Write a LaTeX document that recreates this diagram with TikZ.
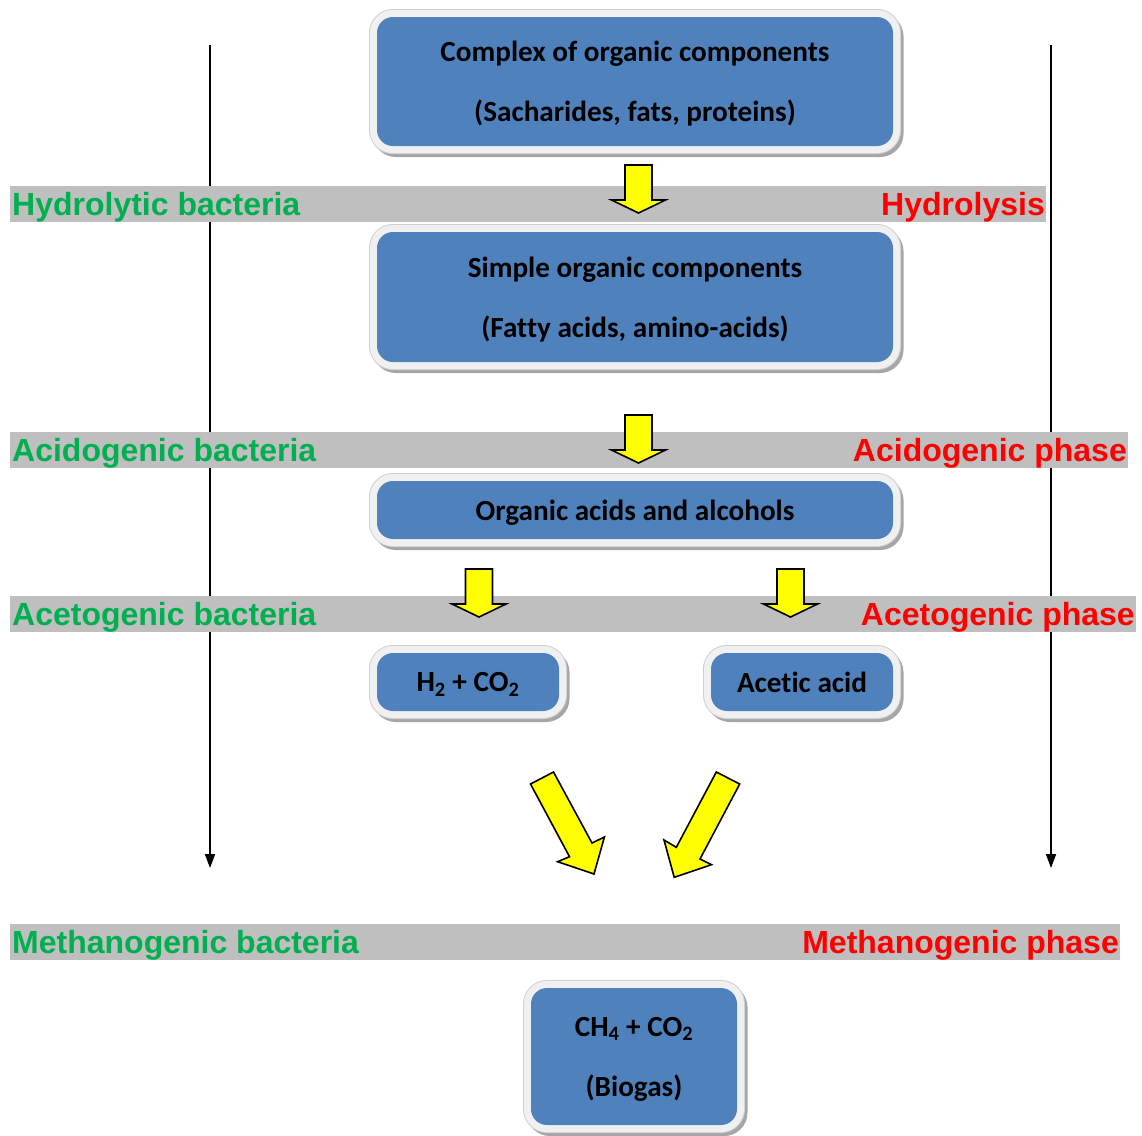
\documentclass[tikz,border=0pt]{standalone}
\usepackage{fontspec}
\setmainfont{Carlito}[Ligatures=NoCommon]
\newfontfamily\arialfont{Liberation Sans}
\usetikzlibrary{arrows.meta}
\definecolor{boxblue}{HTML}{4F81BD}
\definecolor{framegray}{HTML}{F0F0F0}
\definecolor{frameline}{HTML}{D0D0D0}
\definecolor{shadowgray}{HTML}{A6A6A6}
\definecolor{bandgray}{HTML}{BFBFBF}
\definecolor{labgreen}{HTML}{00B050}
\definecolor{labred}{HTML}{FF0000}
\definecolor{arrowyellow}{HTML}{FFFF00}
\tikzset{
  stagebox/.style={fill=boxblue, rounded corners=16pt, inner sep=0pt, align=center,
    text depth=0pt,
    font=\bfseries\fontsize{29.2}{60}\selectfont,
    preaction={draw=shadowgray, line width=15pt, transform canvas={shift={(3pt,-3.5pt)}}},
    preaction={draw=frameline, line width=16pt},
    preaction={draw=framegray, line width=14pt}},
  band/.style={fill=bandgray, inner sep=0pt, minimum height=36pt, anchor=north west},
  labfont/.style={font=\arialfont\bfseries\fontsize{32}{36}\selectfont, inner sep=0pt},
  bact/.style={labfont, text=labgreen, anchor=base west},
  phase/.style={labfont, text=labred, anchor=base east},
  vline/.style={line width=1.8pt, -{Triangle[length=14pt,width=10pt]}},
  yarrow/.style={fill=arrowyellow, draw=black, line width=1.6pt, line join=miter},
  downarr/.pic={\draw[yarrow] (-13.5,0) -- (13.5,0) -- (13.5,35) -- (27,35) -- (0,48) -- (-27,35) -- (-13.5,35) -- cycle;}
}
\begin{document}
\begin{tikzpicture}[x=1pt, y=-1pt]
\useasboundingbox (0,0) rectangle (1142,1135);
% timeline arrows
\coordinate (lt) at (210,45);
\coordinate (lb) at (210,868);
\coordinate (rt) at (1051,45);
\coordinate (rb) at (1051,868);
\draw[vline] (lt) -- (lb);
\draw[vline] (rt) -- (rb);
% bands
\node[band, minimum width=1036pt] (b1) at (10,186) {};
\node[band, minimum width=1118pt] (b2) at (10,432) {};
\node[band, minimum width=1126pt] (b3) at (10,596) {};
\node[band, minimum width=1110pt] (b4) at (10,924) {};
% labels
\node[bact] (hb) at (12,215.5) {Hydrolytic bacteria};
\node[phase] (hp) at (1045,215.5) {Hydrolysis};
\node[bact] (ab) at (12,461.5) {Acidogenic bacteria};
\node[phase] (ap) at (1127,461.5) {Acidogenic phase};
\node[bact] (eb) at (12,625.5) {Acetogenic bacteria};
\node[phase] (ep) at (1135,625.5) {Acetogenic phase};
\node[bact] (mb) at (12,953.5) {Methanogenic bacteria};
\node[phase] (mp) at (1119,953.5) {Methanogenic phase};
% boxes
\node[stagebox, minimum width=516pt, minimum height=129pt] (complex) at (635,81.5)
  {Complex of organic components\\(Sacharides, fats, proteins)};
\node[stagebox, minimum width=516pt, minimum height=130pt] (simple) at (635,297)
  {Simple organic components\\(Fatty acids, amino-acids)};
\node[stagebox, minimum width=516pt, minimum height=58pt] (acids) at (635,510)
  {Organic acids and alcohols};
\node[stagebox, minimum width=182pt, minimum height=58pt] (hco) at (468,682)
  {H\textsubscript{2} + CO\textsubscript{2}};
\node[stagebox, minimum width=182pt, minimum height=58pt] (acetic) at (802,682)
  {Acetic acid};
\node[stagebox, minimum width=206pt, minimum height=137pt] (biogas) at (634,1056.5)
  {CH\textsubscript{4} + CO\textsubscript{2}\\(Biogas)};
% block arrows
\pic (a1) at (638.5,165) {downarr};
\pic (a2) at (638.5,415) {downarr};
\pic (a3) at (479,569) {downarr};
\pic (a4) at (790.5,569) {downarr};
\draw[yarrow] (530.5,784) -- (553.5,772) -- (592,843) -- (604.4,837) -- (594,874) -- (557.6,861.7) -- (569.5,856.7) -- cycle;
\draw[yarrow] (716.3,772) -- (739.7,784) -- (700,859) -- (711.5,864.7) -- (674.2,877.3) -- (664,840) -- (676.3,847.3) -- cycle;
\end{tikzpicture}
\end{document}
